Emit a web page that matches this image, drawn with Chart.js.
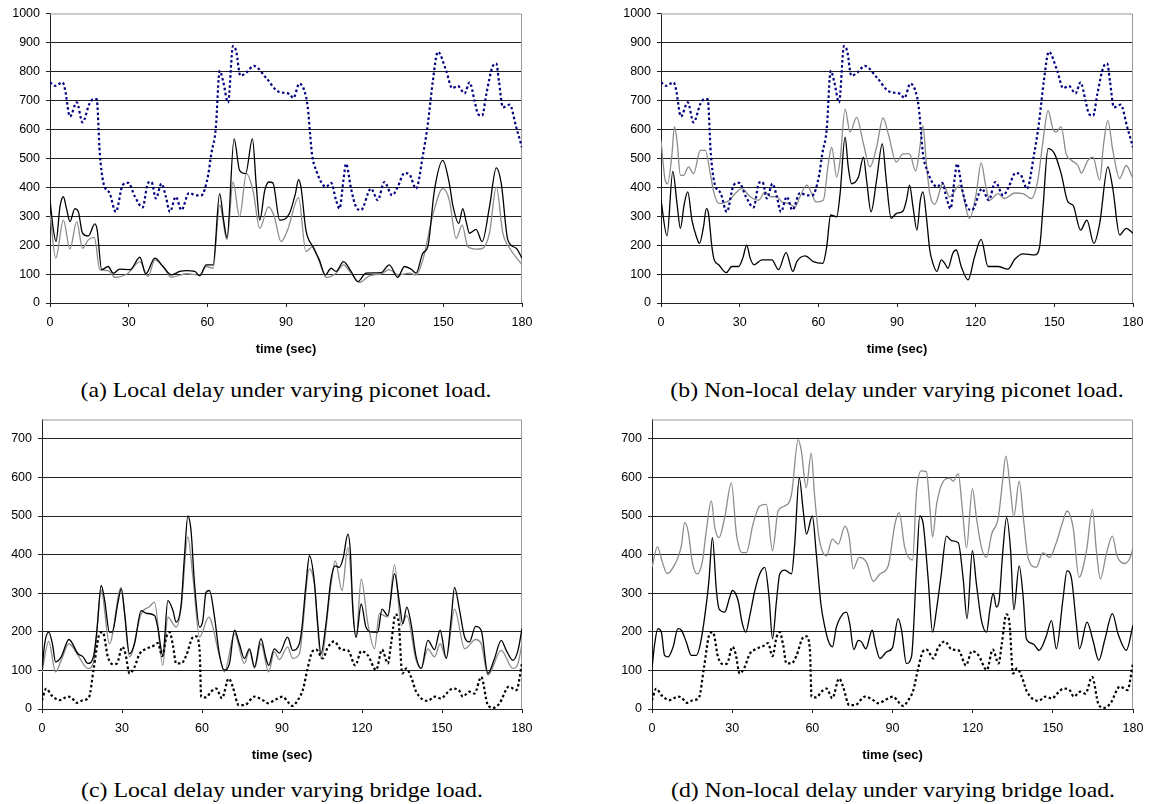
<!DOCTYPE html>
<html>
<head>
<meta charset="utf-8">
<script src="https://cdn.jsdelivr.net/npm/chart.js@4.4.1/dist/chart.umd.min.js"></script>
<style>
  body { margin: 0; background: #fff; width: 1157px; height: 804px; overflow: hidden; position: relative; }
  canvas { position: absolute; }
  .cap { position: absolute; width: 500px; text-align: center; font-family: "Liberation Serif", "Times New Roman", serif; font-size: 22px; line-height: 22px; color: #000; transform: scaleX(1.08); white-space: nowrap; }
</style>
</head>
<body>
<canvas id="chartA" width="560" height="363" style="left:0px;top:0px"></canvas>
<canvas id="chartB" width="552" height="363" style="left:605px;top:0px"></canvas>
<canvas id="chartC" width="560" height="363" style="left:0px;top:406px"></canvas>
<canvas id="chartD" width="552" height="363" style="left:605px;top:406px"></canvas>
<div class="cap" style="left:36px;top:379px">(a) Local delay under varying piconet load.</div>
<div class="cap" style="left:647px;top:379px">(b) Non-local delay under varying piconet load.</div>
<div class="cap" style="left:32px;top:779px">(c) Local delay under varying bridge load.</div>
<div class="cap" style="left:643px;top:779px">(d) Non-local delay under varying bridge load.</div>
<script>
// x ticks (time in seconds)
const timeTicks = [0, 30, 60, 90, 120, 150, 180];
const xTitle = "time (sec)";

// piconet load panels (a) and (b): dotted line is the same in both
const picoDotT = [0, 1.9, 4.8, 5.7, 7.6, 10.2, 12.4, 15, 16.5, 17.8, 19, 20.3, 22.8, 25.1, 27.7, 29.8, 32.4, 35.3, 37.4, 38.7, 40.4, 42.5, 44.2, 45.7, 48, 50.1, 53, 55.8, 57.7, 60.3, 61.5, 63.2, 64.7, 66, 67.9, 69.8, 71, 72.6, 74.9, 77.7, 82.5, 86.9, 91.3, 92.8, 95.1, 97, 98.3, 99.2, 99.9, 101.5, 105.3, 107.2, 109.1, 110.4, 111.9, 112.9, 114.8, 116.7, 118.6, 122.4, 125, 127.5, 130.5, 132.6, 135.2, 137.1, 139.6, 142.2, 144.1, 146, 147.9, 151.1, 153.4, 155.5, 158.1, 160, 161.9, 163.2, 164.8, 166.4, 168.9, 170.2, 171.2, 172.7, 175.3, 177.8, 180];
const picoDotV = [762, 750, 762, 739, 644, 693, 624, 687, 704, 704, 515, 418, 378, 315, 407, 415, 367, 330, 415, 418, 361, 412, 367, 315, 367, 321, 380, 372, 372, 441, 515, 601, 802, 767, 693, 888, 870, 785, 796, 819, 777, 731, 722, 708, 758, 733, 676, 584, 515, 458, 401, 415, 355, 326, 424, 481, 395, 332, 321, 395, 355, 418, 372, 401, 449, 444, 395, 510, 619, 767, 868, 802, 742, 750, 724, 762, 699, 653, 647, 722, 819, 827, 767, 676, 685, 607, 538];

const aBlackT = [0, 1.3, 2.3, 3.8, 5.1, 6.3, 7.6, 9.5, 10.8, 12.4, 14.6, 17.1, 18, 19.7, 22.2, 24.1, 26.6, 30.5, 34.3, 36.5, 40, 43.1, 46.3, 49.5, 52, 55.2, 57.1, 59.6, 62.2, 64.7, 66.2, 67.5, 70.2, 72.3, 74.6, 77.2, 78.7, 80, 81.9, 83.5, 85, 87.6, 91.3, 93.6, 94.8, 95.7, 97.6, 100.2, 102.7, 105, 107.2, 109.1, 111.9, 114.8, 117.4, 120.5, 126.3, 129.4, 132.6, 135.2, 137.7, 139.6, 142.2, 144.1, 146.6, 149.8, 152.3, 153.6, 155.9, 157.4, 158.7, 160, 162.5, 164.8, 167.6, 170.2, 172.1, 174.6, 177.8, 180];
const aBlackV = [355, 252, 212, 332, 367, 326, 281, 326, 315, 241, 231, 273, 252, 115, 126, 103, 117, 115, 158, 100, 155, 126, 97, 109, 112, 109, 94, 132, 132, 378, 286, 225, 567, 458, 447, 567, 401, 286, 389, 418, 415, 286, 309, 378, 426, 401, 252, 195, 149, 97, 120, 109, 143, 109, 74, 103, 105, 132, 89, 126, 117, 103, 172, 195, 389, 493, 412, 338, 275, 326, 281, 241, 254, 212, 332, 467, 412, 218, 189, 155];

const aGrayT = [0, 2.2, 5.1, 7.6, 10.2, 12.4, 14.6, 16.9, 19, 22.2, 24.7, 29.8, 34.3, 37.4, 40, 43.1, 46.3, 52, 57.1, 59.6, 62.2, 64.7, 67.5, 69.8, 72.3, 74.9, 77.4, 80, 83.3, 85.5, 88.1, 90.6, 94.8, 97.6, 100.2, 102.7, 105.3, 109.1, 111.9, 114.8, 118, 121.8, 126.3, 129.4, 132.6, 137.1, 139.6, 142.2, 146, 149.8, 152.3, 154.9, 157.2, 159.3, 162.5, 165, 167.6, 170.2, 172.7, 175.3, 180];
const aGrayV = [309, 155, 286, 186, 281, 189, 218, 227, 115, 112, 89, 103, 143, 92, 149, 126, 89, 101, 97, 126, 120, 338, 218, 418, 298, 447, 389, 258, 332, 300, 212, 252, 364, 178, 195, 143, 89, 103, 132, 103, 71, 94, 101, 115, 97, 103, 97, 149, 304, 395, 355, 223, 269, 195, 186, 189, 241, 401, 241, 189, 132];

const bBlackT = [0, 2.3, 4.5, 6.1, 7.4, 8.9, 10.2, 11.8, 13.5, 14.7, 16.2, 17.3, 18.1, 19.4, 20.3, 22, 24.9, 27, 29.6, 31.2, 32.7, 34, 35.5, 38.5, 42.3, 44.8, 47.7, 50.3, 51.8, 55, 58.1, 61.7, 63.2, 64.7, 67, 68.3, 70.2, 71.4, 72.7, 75.3, 77.2, 78.4, 80.1, 82.2, 84.4, 85.9, 87.8, 89.7, 92.3, 93.6, 94.8, 96.1, 97.6, 98.9, 99.9, 101.2, 102.5, 103.7, 105.2, 106.9, 108.2, 109.4, 111.3, 112.6, 114.5, 117.1, 119.6, 122.1, 124.7, 128.5, 132.3, 134.9, 138, 142.5, 144.4, 145.7, 147.6, 150.1, 152.6, 155.2, 157.1, 160, 162.4, 165.1, 167.3, 170.4, 172.3, 174.9, 177.4, 180];
const bBlackV = [355, 232, 455, 344, 258, 344, 384, 286, 229, 206, 263, 326, 309, 195, 149, 132, 105, 126, 126, 155, 200, 155, 132, 149, 149, 115, 174, 109, 143, 163, 143, 137, 195, 304, 298, 378, 573, 470, 412, 435, 504, 424, 315, 424, 550, 424, 292, 309, 318, 355, 407, 332, 252, 355, 384, 298, 183, 137, 109, 149, 137, 120, 172, 183, 126, 80, 160, 220, 126, 126, 117, 151, 170, 166, 195, 332, 533, 515, 447, 349, 338, 252, 286, 206, 275, 470, 395, 235, 258, 241];

const bGrayT = [0, 1.6, 2.5, 4.2, 5.1, 6.1, 7.4, 8.6, 10.5, 12.4, 15, 16.9, 18.8, 20.1, 22, 23.9, 26.1, 28.3, 30.8, 34, 37.2, 39.7, 41.9, 44.2, 46.1, 48.6, 51.1, 53, 55.6, 57.5, 59.1, 61.9, 63.8, 65.1, 67, 68.3, 70.2, 72.1, 74.6, 77.2, 79.7, 82.2, 84.7, 86.8, 89.7, 92.3, 94.8, 97.1, 98.9, 99.9, 101.2, 102.5, 104.4, 107.5, 110.1, 113.9, 117.7, 120.2, 122.1, 123.8, 125.3, 128.5, 131, 134.9, 138, 141.2, 143.7, 145.7, 147.6, 149.5, 150.7, 152.6, 154.5, 156.5, 159, 160.3, 162.8, 164.7, 167.3, 168.8, 170.4, 172.3, 174.9, 177.4, 180];
const bGrayV = [561, 424, 412, 515, 609, 561, 441, 441, 470, 447, 527, 527, 447, 384, 344, 346, 355, 378, 395, 367, 355, 384, 367, 367, 349, 344, 332, 367, 407, 378, 349, 355, 481, 538, 435, 493, 670, 590, 641, 550, 470, 538, 639, 580, 487, 515, 515, 456, 550, 613, 481, 378, 341, 412, 367, 407, 292, 378, 484, 407, 355, 378, 361, 380, 378, 361, 424, 561, 664, 601, 590, 609, 515, 493, 475, 449, 493, 504, 424, 550, 630, 527, 430, 475, 430];

// bridge load panels (c) and (d): dotted line is the same in both
const bridgeDotT = [0, 1.6, 3.5, 6.6, 9.7, 11, 13.1, 15.4, 17.6, 19.4, 21.6, 22.8, 24.7, 26.6, 28.1, 30.1, 31.3, 32.8, 34.7, 36.6, 39.1, 42.2, 43.4, 45.1, 46.6, 47.8, 49.1, 50.3, 52.2, 54, 56.6, 57.8, 59.1, 59.7, 61.5, 63.4, 65.3, 67.5, 70, 71.5, 73.8, 75.9, 79.7, 82.8, 84.6, 87.7, 90.3, 92.1, 94, 95.9, 97.8, 99.6, 101.3, 102.8, 105.3, 107.1, 109.6, 112.2, 114.7, 117.5, 119.7, 122.2, 125.3, 127.5, 129.7, 130.9, 132.6, 133.8, 135.1, 136.6, 138.4, 140.3, 144.7, 147.2, 149.7, 151.6, 154.1, 156.3, 157.8, 160.3, 162.2, 164.7, 167.2, 169.3, 171.6, 175.1, 177.9, 180];
const bridgeDotV = [23, 53, 36, 23, 32, 30, 16, 23, 30, 105, 195, 199, 135, 116, 118, 161, 143, 92, 109, 143, 156, 165, 171, 137, 186, 199, 165, 118, 118, 137, 186, 188, 152, 32, 30, 45, 53, 28, 79, 58, 10, 10, 32, 23, 15, 25, 32, 19, 8, 23, 49, 105, 148, 154, 131, 159, 175, 154, 152, 113, 150, 139, 101, 154, 118, 169, 245, 221, 92, 105, 83, 45, 21, 32, 27, 40, 53, 49, 32, 45, 40, 83, 10, 3, 15, 58, 49, 118];

const cBlackT = [0, 1, 2.5, 3.9, 5.1, 7.2, 10.1, 13.5, 15.4, 17.2, 19.4, 20.6, 22.2, 23.5, 25.3, 26.3, 28.5, 29.7, 31, 32.8, 34.7, 37.2, 39.1, 42.2, 43.4, 45.3, 47.2, 49.1, 50.3, 52.2, 53.4, 54.7, 55.9, 57.2, 59.1, 60.3, 61.5, 62.8, 64.7, 66.5, 68.4, 70.3, 72.2, 74, 75.9, 77.8, 79.7, 82.1, 84, 85, 87.1, 89, 92.1, 94, 96.5, 97.5, 99, 100.3, 102.1, 103.4, 104.6, 106.5, 108.4, 110, 111.5, 113, 114.7, 115.7, 116.5, 117.8, 119.7, 121.5, 124, 125.9, 127.5, 129.7, 132.2, 134.1, 135.3, 136.8, 138.4, 140.3, 142.2, 144.7, 147.2, 149.3, 151.6, 153.5, 154.7, 156.6, 158.5, 160.3, 162.6, 164.7, 167.2, 169.7, 172.2, 174.1, 176.6, 178.5, 180];
const cBlackV = [101, 169, 199, 169, 122, 135, 180, 143, 135, 118, 139, 204, 320, 281, 199, 199, 277, 311, 247, 143, 169, 255, 248, 242, 212, 139, 281, 255, 225, 272, 393, 500, 461, 324, 212, 229, 302, 307, 238, 143, 101, 118, 204, 169, 131, 156, 109, 182, 131, 113, 156, 145, 186, 152, 169, 212, 324, 397, 332, 221, 143, 221, 337, 371, 367, 393, 453, 401, 264, 186, 272, 212, 199, 199, 259, 242, 350, 272, 221, 264, 221, 135, 105, 178, 154, 204, 131, 238, 315, 255, 186, 174, 214, 204, 92, 131, 178, 152, 126, 152, 208];

const cGrayT = [0, 2.5, 5.1, 7.2, 10.1, 13.5, 17.2, 19.4, 22.2, 25.3, 29.7, 32.8, 37.2, 40.3, 42.2, 45.3, 47.2, 50.3, 52.2, 54.7, 56.6, 59.1, 62.5, 66.5, 68.4, 72.2, 75.9, 77.8, 79.7, 82.1, 85, 87.1, 89, 92.1, 94, 96.5, 100.3, 102.1, 104.6, 108.4, 110, 112.5, 114.7, 117.8, 119.7, 122.2, 124.7, 126.5, 129.7, 132.2, 134.7, 136.8, 140.3, 142.2, 144.7, 147.2, 149.3, 151.6, 154.7, 158.5, 162.6, 164.7, 167.2, 172.2, 176.6, 178.5, 180];
const cGrayV = [96, 175, 96, 126, 169, 139, 105, 122, 307, 169, 315, 135, 247, 265, 277, 113, 238, 212, 264, 446, 341, 186, 238, 139, 96, 195, 118, 152, 105, 169, 96, 148, 128, 161, 131, 143, 363, 324, 131, 324, 384, 307, 418, 186, 337, 221, 156, 247, 238, 374, 216, 242, 126, 105, 156, 135, 169, 131, 259, 156, 180, 169, 88, 152, 105, 118, 169];

const dBlackT = [0, 1, 2.2, 3.5, 4.7, 6, 7.9, 9.7, 11, 12.8, 14.7, 16.6, 18.1, 19.7, 21.3, 22.6, 24.1, 25.1, 27.2, 29.1, 30.1, 32.2, 33.8, 35.1, 36.6, 38.5, 40.3, 42.2, 43.8, 45.1, 46.6, 47.8, 49.7, 52.2, 53.4, 55.1, 56.6, 57.8, 60, 61.5, 63.2, 64.7, 65.9, 67.5, 69, 71.5, 72.8, 74, 75.5, 77.2, 78.4, 80, 82.4, 83.8, 85.3, 87.8, 90, 92.1, 93.4, 95.2, 97.1, 99, 100.2, 101.5, 103.3, 105, 106.5, 108.1, 110.2, 112.1, 114.6, 116.4, 117.9, 119.9, 121.4, 123.3, 125.2, 126.4, 127.7, 128.9, 129.9, 131.2, 132.7, 134.2, 135.4, 137.4, 138.9, 140.1, 142.6, 144.9, 147.4, 149.5, 151.3, 153.8, 155.3, 156.9, 158.8, 160, 162.8, 165, 167.2, 169.4, 172.3, 174.4, 177.5, 180];
const dBlackV = [105, 169, 208, 199, 139, 135, 161, 208, 204, 174, 139, 139, 169, 238, 332, 444, 307, 259, 251, 290, 307, 281, 221, 199, 242, 307, 350, 367, 290, 182, 281, 350, 360, 350, 427, 599, 513, 453, 500, 401, 272, 212, 178, 161, 212, 247, 251, 221, 154, 178, 174, 156, 204, 161, 131, 148, 159, 234, 204, 118, 135, 367, 500, 479, 341, 199, 259, 341, 448, 436, 431, 341, 234, 410, 324, 229, 199, 255, 300, 264, 281, 401, 496, 410, 257, 371, 290, 182, 169, 152, 186, 229, 156, 285, 358, 341, 221, 156, 225, 178, 126, 178, 247, 195, 152, 217];

const dGrayT = [0, 2, 3.9, 5.6, 7.9, 11, 12.2, 13.5, 15.1, 16.9, 18.9, 20.3, 22.2, 23.5, 25.1, 27.2, 29.7, 31.6, 33.8, 35.3, 37.8, 40.3, 42.8, 45.1, 47.2, 49.7, 52.2, 54.7, 55.9, 57.7, 59.6, 60.8, 62.5, 65.3, 67.5, 69.7, 72.2, 73.8, 75.3, 77.5, 80.3, 82.8, 85.3, 88.4, 90.9, 92.5, 94.6, 97.5, 99, 100.8, 102.7, 104, 105, 106.5, 109, 111.4, 112.7, 114.6, 116.2, 117.7, 119.9, 121.4, 123.3, 125.2, 127.1, 129.6, 131.2, 132.4, 134.2, 135.4, 137.4, 139.1, 140.7, 143.8, 146.3, 148.8, 151.3, 153.8, 155.3, 157.6, 159.8, 162.6, 164.8, 166.3, 167.8, 170, 172.3, 174, 176.9, 179, 180];
const dGrayV = [367, 420, 380, 351, 367, 423, 483, 461, 380, 350, 384, 461, 539, 470, 444, 496, 586, 453, 405, 405, 479, 526, 530, 410, 513, 526, 556, 698, 668, 573, 663, 556, 444, 397, 440, 427, 474, 444, 363, 393, 380, 331, 350, 371, 479, 509, 418, 386, 564, 617, 615, 521, 446, 530, 590, 598, 590, 609, 513, 418, 571, 496, 418, 393, 453, 496, 590, 655, 564, 498, 590, 487, 393, 367, 405, 393, 431, 487, 513, 470, 341, 410, 517, 410, 337, 401, 448, 397, 377, 393, 418];

Chart.defaults.font.family = "'Liberation Sans', Arial, sans-serif";
Chart.defaults.font.size = 12.5;
Chart.defaults.color = "#000";

function pts(t, v) {
  return t.map(function(x, i) { return { x: x, y: v[i] }; });
}

function line(t, v, color, width, dash) {
  return {
    data: pts(t, v),
    borderColor: color,
    borderWidth: width,
    borderDash: dash || [],
    pointRadius: 0,
    fill: false,
    cubicInterpolationMode: "monotone"
  };
}

// gray frame on top and right edge of the plot
const framePlugin = {
  id: "frame",
  beforeDatasetsDraw: function(chart) {
    let a = chart.chartArea;
    let c = chart.ctx;
    c.save();
    c.strokeStyle = "#999";
    c.lineWidth = 1;
    c.beginPath();
    c.moveTo(a.left, a.top + 0.5);
    c.lineTo(a.right - 0.5, a.top + 0.5);
    c.lineTo(a.right - 0.5, a.bottom);
    c.stroke();
    c.restore();
  }
};

function makePanel(id, yMax, yTop, yWidth, padRight, datasets) {
  let ctx = document.getElementById(id).getContext("2d");
  return new Chart(ctx, {
    type: "line",
    data: { datasets: datasets },
    plugins: [framePlugin],
    options: {
      responsive: false,
      animation: false,
      events: [],
      layout: { padding: { left: 0, top: 12, right: padRight, bottom: 0 } },
      plugins: { legend: { display: false }, tooltip: { enabled: false } },
      scales: {
        x: {
          type: "linear",
          min: 0,
          max: 180,
          afterBuildTicks: function(s) { s.ticks = timeTicks.map(function(v) { return { value: v }; }); },
          afterFit: function(s) { s.height = 60; },
          ticks: { autoSkip: false, maxRotation: 0, padding: 8, callback: function(v) { return String(v); } },
          grid: { drawOnChartArea: false, tickLength: 4, tickColor: "#222" },
          border: { color: "#222" },
          title: { display: true, text: xTitle, font: { weight: "bold", size: 13 }, padding: { top: 0, bottom: 6 } }
        },
        y: {
          min: 0,
          max: yMax,
          afterBuildTicks: function(s) {
            s.ticks = s.ticks.filter(function(t) { return t.value <= yTop && t.value % 100 === 0; });
          },
          afterFit: function(s) { s.width = yWidth; },
          ticks: { stepSize: 100, padding: 6, callback: function(v) { return String(v); } },
          grid: {
            tickLength: 4,
            tickColor: "#222",
            color: function(c) { return c.tick && c.tick.value >= yMax ? "rgba(0,0,0,0)" : "#222"; }
          },
          border: { color: "#222" }
        }
      }
    }
  });
}

const picoDot = ["#000080", 2.2, [2.5, 2.5]];
const bridgeDot = ["#000", 2.2, [2.5, 2.5]];

makePanel("chartA", 1000, 1000, 50, 38, [
  line(aBlackT, aBlackV, "#000", 1.3),
  line(picoDotT, picoDotV, picoDot[0], picoDot[1], picoDot[2]),
  line(aGrayT, aGrayV, "#8c8c8c", 1.3)
]);
makePanel("chartB", 1000, 1000, 56, 24, [
  line(bBlackT, bBlackV, "#000", 1.3),
  line(picoDotT, picoDotV, picoDot[0], picoDot[1], picoDot[2]),
  line(bGrayT, bGrayV, "#8c8c8c", 1.3)
]);
makePanel("chartC", 750, 700, 42, 38, [
  line(cBlackT, cBlackV, "#000", 1.3),
  line(bridgeDotT, bridgeDotV, bridgeDot[0], bridgeDot[1], bridgeDot[2]),
  line(cGrayT, cGrayV, "#8c8c8c", 1.3)
]);
makePanel("chartD", 750, 700, 47, 24, [
  line(dBlackT, dBlackV, "#000", 1.3),
  line(bridgeDotT, bridgeDotV, bridgeDot[0], bridgeDot[1], bridgeDot[2]),
  line(dGrayT, dGrayV, "#8c8c8c", 1.3)
]);
</script>
</body>
</html>
